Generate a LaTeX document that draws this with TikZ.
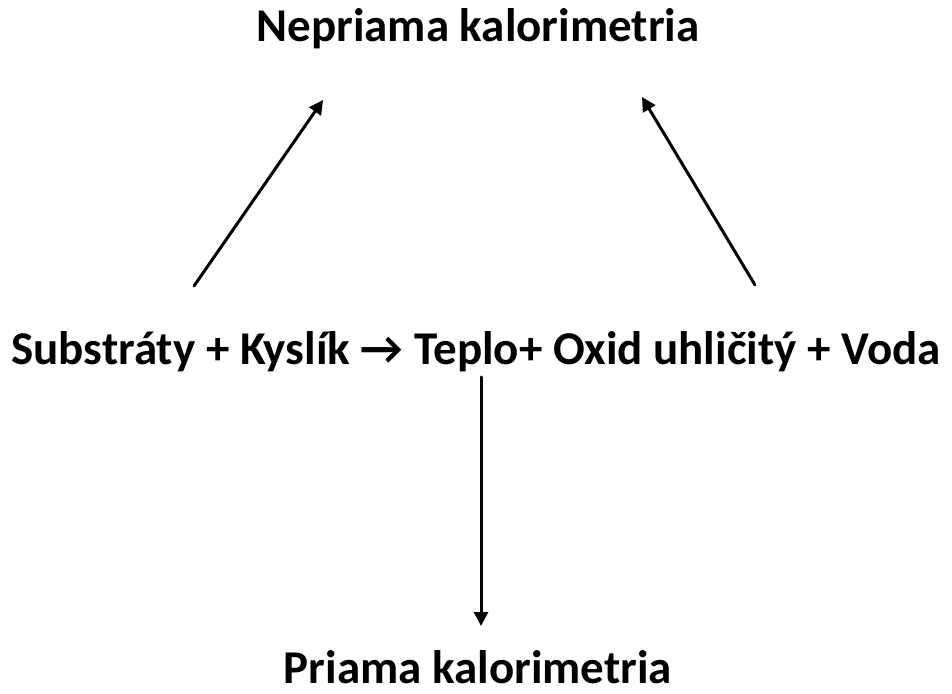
\documentclass[tikz,border=0pt]{standalone}
\usepackage{fontspec}
\setmainfont{Carlito}
\usetikzlibrary{arrows.meta}
\begin{document}
\begin{tikzpicture}[x=1pt,y=1pt,
  lbl/.style={font=\bfseries\fontsize{47}{54}\selectfont, inner sep=0pt, anchor=base},
  arr/.style={-{Triangle[length=14pt,width=14pt]}, line width=3pt, line cap=round}]
\useasboundingbox (0,0) rectangle (952,693);
\node[lbl] (top) at (478,693-42) {Nepriama kalorimetria};
\node[lbl] (mid) at (476,693-365) {Substráty + Kyslík → Teplo+ Oxid uhličitý + Voda};
\node[lbl, text depth=0pt] (bot) at (478,693-683) {Priama kalorimetria};
\coordinate (l0) at (194,693-286);
\coordinate (l1) at (323,693-100);
\coordinate (r0) at (755,693-285);
\coordinate (r1) at (642,693-97);
\coordinate (d0) at (481,693-377);
\coordinate (d1) at (481,693-626);
\draw[arr] (l0) -- (l1);
\draw[arr] (r0) -- (r1);
\draw[arr] (d0) -- (d1);
\end{tikzpicture}
\end{document}
